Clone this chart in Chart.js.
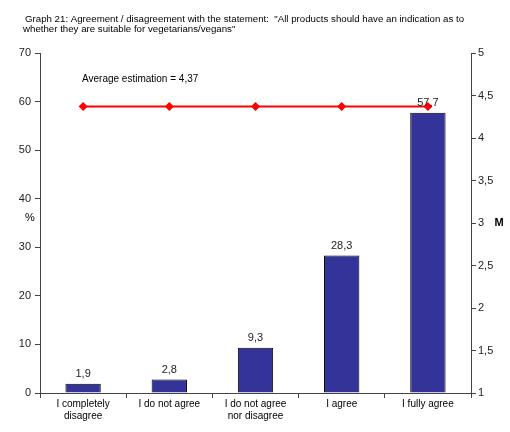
<!DOCTYPE html>
<html>
<head>
<meta charset="utf-8">
<script src="https://cdn.jsdelivr.net/npm/chart.js@4/dist/chart.umd.min.js"></script>
<style>
  html, body { margin: 0; padding: 0; background: #fff; }
  #wrap { width: 510px; height: 432px; position: relative; }
</style>
</head>
<body>
<div id="wrap"><canvas id="c"></canvas></div>
<script>
// dati
const categories = [
    ['I completely', 'disagree'],
    'I do not agree',
    ['I do not agree', 'nor disagree'],
    'I agree',
    'I fully agree'
];
const percentValues = [1.9, 2.8, 9.3, 28.3, 57.7];
const averageValues = [4.37, 4.37, 4.37, 4.37, 4.37];
const titleLines = [
    'Graph 21: Agreement / disagreement with the statement:  "All products should have an indication as to',
    'whether they are suitable for vegetarians/vegans"'
];
const averageNote = 'Average estimation = 4,37';

const FONT = 'Arial, "Liberation Sans", sans-serif';
const comma = (v) => String(v).replace('.', ',');

// testi fissi: titolo, nota, etichette assi, valori sopra le barre
const textPlugin = {
    id: 'texts',
    afterDatasetsDraw(chart) {
        const ctx = chart.ctx;
        ctx.save();
        ctx.fillStyle = '#000';
        ctx.font = '9.7px ' + FONT;
        ctx.textBaseline = 'middle';
        ctx.textAlign = 'left';
        ctx.fillText(titleLines[0], 25, 19);
        ctx.fillText(titleLines[1], 23, 29);
        ctx.font = '10px ' + FONT;
        ctx.fillText(averageNote, 82, 79);

        ctx.font = '11px ' + FONT;
        ctx.textAlign = 'center';
        ctx.fillText('%', 30, 218);
        ctx.font = 'bold 11px ' + FONT;
        ctx.fillText('M', 499, 223);

        // valori delle barre (dataset 1 = barre)
        ctx.font = '11px ' + FONT;
        ctx.fillStyle = '#222';
        ctx.textBaseline = 'bottom';
        const meta = chart.getDatasetMeta(1);
        meta.data.forEach((bar, i) => {
            ctx.fillText(comma(percentValues[i]), bar.x, bar.y - 4);
        });
        ctx.restore();
    }
};

new Chart(document.getElementById('c'), {
    type: 'bar',
    data: {
        labels: categories,
        datasets: [
            {
                type: 'line',
                data: averageValues,
                yAxisID: 'y1',
                borderColor: '#ff0000',
                backgroundColor: '#ff0000',
                borderWidth: 2,
                pointStyle: 'rectRot',
                pointRadius: 4.5,
                pointBorderWidth: 0,
                order: 0
            },
            {
                type: 'bar',
                data: percentValues,
                yAxisID: 'y',
                backgroundColor: '#333399',
                borderColor: '#000',
                borderWidth: 1,
                barPercentage: 0.41,
                categoryPercentage: 1,
                order: 1
            }
        ]
    },
    options: {
        responsive: true,
        maintainAspectRatio: false,
        animation: false,
        devicePixelRatio: 1,
        layout: { padding: { top: 53, left: 0, right: 0, bottom: 0 } },
        plugins: { legend: { display: false }, tooltip: { enabled: false } },
        scales: {
            x: {
                afterFit: (s) => { s.height = 39; },
                grid: { display: true, drawOnChartArea: false, drawTicks: true, tickLength: 5, color: '#444', offset: true },
                border: { color: '#444', width: 1 },
                ticks: { color: '#000', font: { size: 10, family: FONT }, padding: 0, maxRotation: 0, autoSkip: false }
            },
            y: {
                position: 'left',
                min: 0, max: 70,
                afterFit: (s) => { s.width = 40; },
                grid: { display: true, drawOnChartArea: false, drawTicks: true, tickLength: 5, color: '#444' },
                border: { color: '#444', width: 1 },
                ticks: { stepSize: 10, color: '#222', font: { size: 11, family: FONT }, padding: 4 }
            },
            y1: {
                position: 'right',
                min: 1, max: 5,
                afterFit: (s) => { s.width = 39; },
                grid: { display: true, drawOnChartArea: false, drawTicks: true, tickLength: 5, color: '#444' },
                border: { color: '#444', width: 1 },
                ticks: { stepSize: 0.5, color: '#222', font: { size: 11, family: FONT }, padding: 2, callback: (v) => comma(v) }
            }
        }
    },
    plugins: [textPlugin]
});
</script>
</body>
</html>
